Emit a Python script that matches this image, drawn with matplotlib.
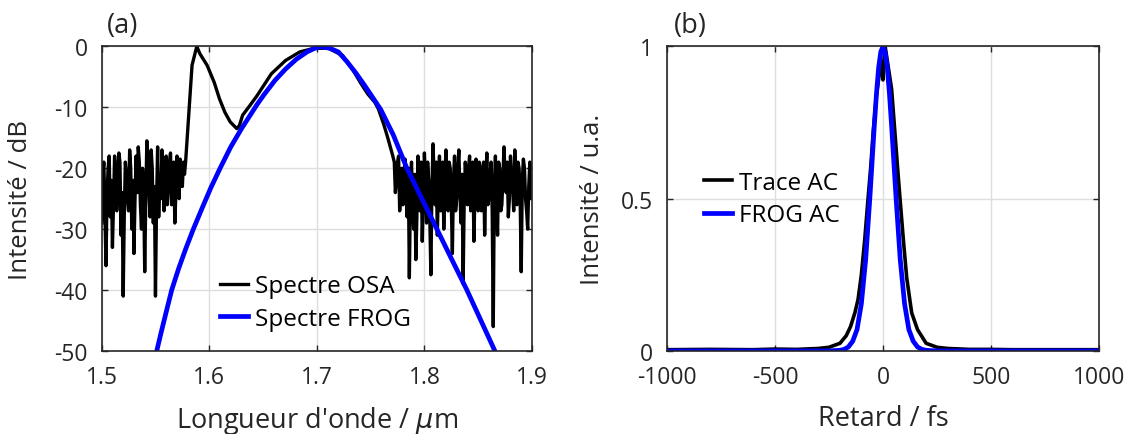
import numpy as np
import matplotlib
matplotlib.use("Agg")
import matplotlib.pyplot as plt

plt.rcParams['font.family'] = ['Open Sans', 'DejaVu Sans']
plt.rcParams['mathtext.fontset'] = 'dejavusans'
plt.rcParams['axes.unicode_minus'] = False

# --- (a) spectre OSA : bruit a gauche, pas 0.001 um depuis 1.500
osa_left_start = 1.500
osa_left = [-29, -21, -19, -27, -36, -24, -20, -18, -28, -22, -33, -26,
            -18, -20, -27, -23, -17.5, -19, -31, -24, -41, -28, -19, -21,
            -25, -27, -17, -20, -30, -22, -34, -25, -18, -24, -16.5, -19,
            -26, -30, -20, -23, -37, -25, -15.5, -19, -24, -28, -17, -20,
            -29, -23, -41, -26, -16.5, -28, -22, -25, -17, -19, -27, -22,
            -18, -26, -23, -19, -17.5, -26, -22, -19, -29, -24, -18, -21,
            -25, -18.5, -20, -23, -19, -21, -19]

# partie lisse (pic a 1.588 et spectre principal)
osa_mid_x = [1.5813, 1.584, 1.5884, 1.5913, 1.598, 1.6046, 1.6095, 1.6145,
             1.6195, 1.6256, 1.628, 1.631, 1.6378, 1.6444, 1.6577, 1.671,
             1.6842, 1.6975, 1.7108, 1.724, 1.734, 1.7407, 1.7473, 1.754,
             1.7573, 1.7622, 1.7656, 1.7705]
osa_mid = [-10.3, -3.1, 0, -1.2, -3.1, -5.9, -8.6, -10.8,
           -12.4, -13.5, -13, -11.3, -9.7, -8.1, -4.5, -2.3,
           -0.9, -0.3, -0.3, -1.5, -4.0, -6.0, -7.8, -9.2,
           -10.3, -12.8, -14.8, -17.9]

# bruit a droite, pas 0.001 um depuis 1.772
osa_right_start = 1.772
osa_right = [-19, -24, -22, -19, -18, -27, -24, -20, -26, -22, -18.5, -25,
             -28, -20, -38, -24, -19, -26, -30, -21, -35, -28, -18, -23,
             -27, -19, -32, -25, -17.5, -22, -29, -19, -22, -28, -37.5, -23,
             -16, -21, -26, -19, -31, -23, -18, -27, -24, -19, -30, -22,
             -17, -25, -27, -19, -20, -26, -34, -22, -18, -27, -25, -20,
             -17, -24, -29, -21, -39, -25, -19, -22, -26, -20, -18, -27,
             -23, -19, -32, -24, -18.5, -22, -27, -19, -20, -27, -24, -19,
             -31, -23, -17.5, -26, -25, -21, -19, -27, -46, -23, -18, -25,
             -31, -19, -20, -27, -26, -21, -16.5, -22, -24, -19, -28, -25,
             -18, -21, -23, -27, -17, -22, -26, -19, -20, -25, -37, -22,
             -18.5, -20, -25, -27, -30, -23, -19, -25, -22]

# spectre FROG
frog_x = [1.5512, 1.5555, 1.560, 1.5651, 1.5715, 1.578, 1.5852, 1.5935,
          1.6015, 1.6101, 1.620, 1.630, 1.6442, 1.651, 1.661, 1.671,
          1.681, 1.6909, 1.6975, 1.7035, 1.712, 1.720, 1.728, 1.736,
          1.744, 1.752, 1.7595, 1.771, 1.7837, 1.7976, 1.8116, 1.8255,
          1.8395, 1.8525, 1.8655]
frog_db = [-50, -46.8, -43.6, -40, -36.5, -33.3, -30, -26.5,
           -23.2, -20, -16.5, -13.5, -9.6, -7.9, -5.6, -3.7,
           -2.1, -0.9, -0.35, -0.05, -0.3, -0.9, -2.5, -4.3,
           -6.3, -8.4, -10.4, -14.5, -20, -25, -30, -35,
           -40, -45, -50]

# --- (b) autocorrelations
ac_t = [-1000, -800, -600, -500, -400, -300, -250, -199, -170, -150, -130,
        -115, -100, -85, -69, -57, -45, -30, -15, -5, 0, 5, 10, 25, 40,
        55, 70, 79, 95, 110, 133, 160, 200, 250, 300, 400, 500, 600, 800,
        1000]
ac_trace = [0.004, 0.005, 0.004, 0.006, 0.005, 0.008, 0.012, 0.025, 0.05,
            0.08, 0.125, 0.17, 0.25, 0.36, 0.50, 0.60, 0.72, 0.84, 0.92,
            0.95, 0.89, 0.96, 1.0, 0.93, 0.86, 0.72, 0.58, 0.50, 0.36,
            0.24, 0.125, 0.07, 0.025, 0.012, 0.008, 0.005, 0.005, 0.004,
            0.004, 0.004]

frog_t = [-1000, -250, -200, -180, -160, -140, -120, -100, -80, -60, -40,
          -30, -20, -10, 0, 10, 20, 30, 40, 60, 80, 100, 120, 140, 160,
          180, 200, 250, 1000]
frog_ac = [0, 0, 0.002, 0.005, 0.013, 0.032, 0.07, 0.155, 0.30, 0.51, 0.74,
           0.845, 0.93, 0.982, 1.0, 0.982, 0.93, 0.845, 0.74, 0.51, 0.30,
           0.155, 0.07, 0.032, 0.013, 0.005, 0.002, 0, 0]

osa_x = np.concatenate([osa_left_start + 0.001 * np.arange(len(osa_left)),
                        osa_mid_x,
                        osa_right_start + 0.001 * np.arange(len(osa_right))])
osa_y = np.concatenate([osa_left, osa_mid, osa_right])

txt = '#262626'
fig = plt.figure(figsize=(11.36, 4.35), dpi=100)
ax1 = fig.add_axes([0.0895, 0.191, 0.3788, 0.700])
ax2 = fig.add_axes([0.5871, 0.191, 0.3803, 0.700])

leg_kw = dict(loc='upper left', frameon=False, fontsize=17.5,
              handlelength=1.15, handletextpad=0.3, borderpad=0,
              borderaxespad=0, labelspacing=0.35)

ax1.plot(osa_x, osa_y, color='black', lw=2.4, label='Spectre OSA')
ax1.plot(frog_x, frog_db, color='#0000ff', lw=3.4, label='Spectre FROG')
ax1.set_xlim(1.5, 1.9)
ax1.set_ylim(-50, 0)
ax1.set_xticks([1.5, 1.6, 1.7, 1.8, 1.9])
ax1.set_yticks([-50, -40, -30, -20, -10, 0])
ax1.set_xlabel("Longueur d'onde / $\\mu$m", fontsize=19.5, color=txt)
ax1.set_ylabel('Intensité / dB', fontsize=18.5, color=txt)
ax1.xaxis.set_label_coords(0.5, -0.175)
ax1.yaxis.set_label_coords(-0.16, 0.5)
ax1.legend(bbox_to_anchor=(0.274, 0.252), **leg_kw)

ax2.plot(ac_t, ac_trace, color='black', lw=2.6, label='Trace AC')
ax2.plot(frog_t, frog_ac, color='#0000ff', lw=3.4, label='FROG AC')
ax2.set_xlim(-1000, 1000)
ax2.set_ylim(0, 1)
ax2.set_xticks([-1000, -500, 0, 500, 1000])
ax2.set_yticks([0, 0.5, 1])
ax2.set_yticklabels(['0', '0.5', '1'])
ax2.set_xlabel('Retard / fs', fontsize=19.5, color=txt)
ax2.set_ylabel('Intensité / u.a.', fontsize=18.5, color=txt)
ax2.xaxis.set_label_coords(0.5, -0.175)
ax2.yaxis.set_label_coords(-0.144, 0.5)
ax2.legend(bbox_to_anchor=(0.086, 0.591), **leg_kw)

for ax in (ax1, ax2):
    ax.grid(True, color='#dedede', lw=1)
    ax.set_axisbelow(True)
    ax.tick_params(direction='in', length=4, width=1, colors=txt,
                   labelsize=16.5, top=True, right=True, pad=10)
    for s in ax.spines.values():
        s.set_color(txt)
        s.set_linewidth(1.2)

fig.text(107 / 1136, 1 - 26 / 435, '(a)', fontsize=19.5, color=txt,
         ha='left', va='center')
fig.text(674 / 1136, 1 - 26 / 435, '(b)', fontsize=19.5, color=txt,
         ha='left', va='center')

fig.savefig('out.png', dpi=100)
